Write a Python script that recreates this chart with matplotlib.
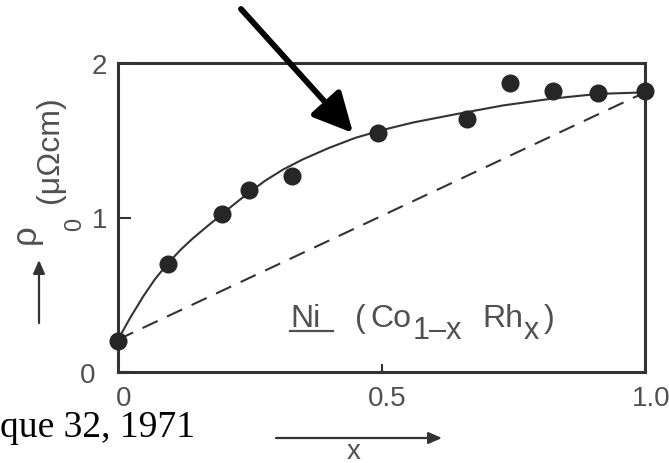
import matplotlib
matplotlib.use("Agg")
import matplotlib.pyplot as plt
from matplotlib.patches import FancyArrowPatch
from matplotlib.transforms import ScaledTranslation

# measured points
x_pts = [0.0, 0.095, 0.197, 0.249, 0.33, 0.493, 0.662, 0.744, 0.825, 0.911, 1.0]
y_pts = [0.20, 0.70, 1.02, 1.18, 1.27, 1.547, 1.64, 1.87, 1.82, 1.805, 1.82]

# hand-drawn fit curve
x_curve = [0.0, 0.023, 0.048, 0.07, 0.095, 0.12, 0.142, 0.17, 0.197, 0.22, 0.25,
           0.28, 0.313, 0.35, 0.40, 0.45, 0.50, 0.56, 0.643, 0.73, 0.825, 0.911, 1.0]
y_curve = [0.21, 0.35, 0.49, 0.60, 0.705, 0.795, 0.865, 0.945, 1.02, 1.085, 1.165,
           1.24, 1.31, 1.375, 1.45, 1.515, 1.565, 1.615, 1.67, 1.725, 1.77, 1.80, 1.81]

# dashed straight line between the end members
x_dash = [0.0, 1.0]
y_dash = [0.21, 1.81]

x_ticks = [0, 0.5, 1.0]
x_ticklabels = ["0", "0.5", "1.0"]
y_ticks = [0, 1, 2]
y_ticklabels = ["0", "1", "2"]

W, H = 669, 464
fig = plt.figure(figsize=(W / 100, H / 100), dpi=100)
fig.patch.set_facecolor("white")


def fx(px):
    return px / W


def fy(py):
    return 1 - py / H


ax = fig.add_axes([fx(118), fy(373), (645 - 118) / W, (373 - 64) / H])
ax.set_xlim(0, 1)
ax.set_ylim(0, 2)

fg = "#333333"
txt = "#505050"
sans = "Liberation Sans"

ax.plot(x_curve, y_curve, color=fg, lw=1.5, clip_on=False, zorder=2,
        solid_joinstyle="round")
ax.plot(x_dash, y_dash, color=fg, lw=1.5, dashes=(8, 5), clip_on=False, zorder=2)
ax.plot(x_pts, y_pts, "o", color="#262626", markersize=12, clip_on=False, zorder=3)

for s in ax.spines.values():
    s.set_linewidth(2.2)
    s.set_color(fg)

ax.set_xticks(x_ticks)
ax.set_xticklabels(x_ticklabels)
ax.set_yticks(y_ticks)
ax.set_yticklabels(y_ticklabels)
ax.tick_params(direction="in", width=1.5, color=fg, labelcolor=txt, labelsize=20)
ax.tick_params(axis="x", length=6, pad=9)
ax.tick_params(axis="y", length=9.5, pad=8)
for lab in ax.get_xticklabels() + ax.get_yticklabels():
    lab.set_family(sans)
xoff = ScaledTranslation(6 / 100, 0, fig.dpi_scale_trans)
for lab in ax.get_xticklabels():
    lab.set_transform(lab.get_transform() + xoff)
yl = ax.get_yticklabels()
yl[0].set_transform(yl[0].get_transform() + ScaledTranslation(-12 / 100, 0, fig.dpi_scale_trans))

# in-plot label:  Ni (Co1-x Rhx)  with nearly full-size subscripts
pieces = [("Ni", 290, 327, 23), ("(", 355, 327, 23), ("Co", 370, 327, 23),
          ("1\u2013x", 413, 339, 22), ("Rh", 482, 327, 23), ("x", 524, 339, 22),
          (")", 544, 327, 23)]
for s, px, py, fs in pieces:
    fig.text(fx(px), fy(py), s, fontsize=fs, color=txt, family=sans,
             ha="left", va="baseline")
fig.add_artist(plt.Line2D([fx(290), fx(333)], [fy(332), fy(332)], color=txt, lw=1.6))

# y label, rotated, with upward arrow
fig.text(fx(50), fy(150), "(\u03bc\u03a9cm)", rotation=90, fontsize=23, color=txt,
         family=sans, ha="center", va="center")
fig.text(fx(25), fy(234), "\u03c1", rotation=90, fontsize=25, color=txt,
         family=sans, ha="center", va="center")
fig.text(fx(75), fy(224), "0", rotation=90, fontsize=17, color=txt,
         family=sans, ha="center", va="center")
fig.add_artist(FancyArrowPatch(
    (fx(39), fy(324)), (fx(39), fy(261)), transform=fig.transFigure,
    arrowstyle="-|>,head_length=8,head_width=3.5", color=fg, lw=1.6,
    shrinkA=0, shrinkB=0))

# x label with right arrow
fig.text(fx(354), fy(452), "x", fontsize=20, color=txt, family=sans,
         ha="center", va="center")
fig.add_artist(FancyArrowPatch(
    (fx(276), fy(439)), (fx(442), fy(439)), transform=fig.transFigure,
    arrowstyle="-|>,head_length=8,head_width=3.5", color=fg, lw=1.6,
    shrinkA=0, shrinkB=0))

# big black pointer arrow
fig.add_artist(FancyArrowPatch(
    (fx(241), fy(10)), (fx(353), fy(134)), transform=fig.transFigure,
    arrowstyle="-|>,head_length=16,head_width=8", color="black", lw=4.2,
    shrinkA=0, shrinkB=0, mutation_scale=1.5))

# citation fragment
fig.text(0, fy(437), "que 32, 1971", fontsize=27, color="black",
         family="Liberation Serif", ha="left", va="baseline")

fig.savefig("out.png", dpi=100, facecolor="white")
